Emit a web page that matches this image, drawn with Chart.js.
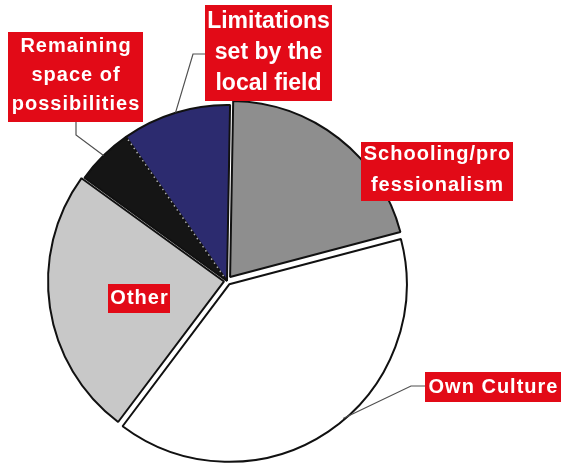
<!DOCTYPE html>
<html>
<head>
<meta charset="utf-8">
<script src="https://cdn.jsdelivr.net/npm/chart.js@4.4.1/dist/chart.umd.min.js"></script>
<style>
  html, body { margin: 0; padding: 0; background: #fff; }
</style>
</head>
<body>
<canvas id="pieChart" width="562" height="464"></canvas>
<script>
// Pie slices, clockwise from 12 o'clock
const categories = ['Schooling/professionalism', 'Own Culture', 'Other', 'Remaining space of possibilities', 'Limitations set by the local field'];
const shares = [20.6, 39.4, 24.7, 5.3, 10.0];
const sliceColors = ['#8e8e8e', '#ffffff', '#c8c8c8', '#151515', '#2c2b6f'];
// chart.js moves a slice by offset/4 px
const sliceOffsets = [20, 16, 12, 0, 0];

// text shown in the red label boxes
const labelLines = [
  ['Schooling/pro', 'fessionalism'],
  ['Own Culture'],
  ['Other'],
  ['Remaining', 'space of', 'possibilities'],
  ['Limitations', 'set by the', 'local field']
];

// box placement + leader line (elbow point, where on the slice edge it ends)
const labelBoxes = [
  { x: 361, y: 142, w: 152, h: 59, size: 20, spacing: 1, lineH: 31, firstY: 154 },
  { x: 425, y: 372, w: 136, h: 30, size: 20, spacing: 1, lineH: 30, firstY: 387, leader: [[425, 386], [411, 386]], at: 0.455 },
  { x: 108, y: 284, w: 62, h: 29, size: 20, spacing: 1, lineH: 29, firstY: 298 },
  { x: 8, y: 32, w: 135, h: 90, size: 20, spacing: 1, lineH: 29, firstY: 46, leader: [[76, 122], [76, 135]], at: 0.5 },
  { x: 205, y: 5, w: 127, h: 96, size: 23, spacing: 0, lineH: 31, firstY: 22, leader: [[205, 54], [193, 54]], at: 0.5 }
];

const labelPlugin = {
  id: 'labelBoxes',
  afterDatasetsDraw(chart) {
    const ctx = chart.ctx;
    const arcs = chart.getDatasetMeta(0).data;

    // dotted seam between the black and navy slices
    const seam = arcs[4];
    ctx.save();
    ctx.strokeStyle = '#b0b0b0';
    ctx.lineWidth = 1.5;
    ctx.setLineDash([1.5, 3.5]);
    ctx.beginPath();
    ctx.moveTo(seam.x + Math.cos(seam.startAngle) * 6, seam.y + Math.sin(seam.startAngle) * 6);
    ctx.lineTo(seam.x + Math.cos(seam.startAngle) * (seam.outerRadius - 3), seam.y + Math.sin(seam.startAngle) * (seam.outerRadius - 3));
    ctx.stroke();
    ctx.restore();

    labelBoxes.forEach((b, i) => {
      const arc = arcs[i];
      if (b.leader) {
        const mid = (arc.startAngle + arc.endAngle) / 2;
        const a = arc.startAngle + (arc.endAngle - arc.startAngle) * b.at;
        const shift = sliceOffsets[i] / 4;
        const cx = arc.x + Math.cos(mid) * shift;
        const cy = arc.y + Math.sin(mid) * shift;
        ctx.save();
        ctx.strokeStyle = '#505050';
        ctx.lineWidth = 1.2;
        ctx.beginPath();
        ctx.moveTo(b.leader[0][0], b.leader[0][1]);
        ctx.lineTo(b.leader[1][0], b.leader[1][1]);
        ctx.lineTo(cx + Math.cos(a) * arc.outerRadius, cy + Math.sin(a) * arc.outerRadius);
        ctx.stroke();
        ctx.restore();
      }
      ctx.save();
      ctx.fillStyle = '#e20a17';
      ctx.fillRect(b.x, b.y, b.w, b.h);
      ctx.fillStyle = '#ffffff';
      ctx.font = 'bold ' + b.size + 'px "Liberation Sans", Arial, sans-serif';
      ctx.letterSpacing = b.spacing + 'px';
      ctx.textAlign = 'center';
      ctx.textBaseline = 'middle';
      labelLines[i].forEach((line, j) => {
        ctx.fillText(line, b.x + b.w / 2 + b.spacing / 2, b.firstY + j * b.lineH);
      });
      ctx.restore();
    });
  }
};

new Chart(document.getElementById('pieChart').getContext('2d'), {
  type: 'pie',
  data: {
    labels: categories,
    datasets: [{
      data: shares,
      backgroundColor: sliceColors,
      borderColor: '#111111',
      borderWidth: 2,
      offset: sliceOffsets,
      hoverOffset: 0,
      radius: 176
    }]
  },
  options: {
    responsive: false,
    animation: false,
    events: [],
    rotation: 1,
    layout: { padding: { left: 0, right: 108, top: 101, bottom: 3 } },
    plugins: {
      legend: { display: false },
      tooltip: { enabled: false }
    }
  },
  plugins: [labelPlugin]
});
</script>
</body>
</html>
